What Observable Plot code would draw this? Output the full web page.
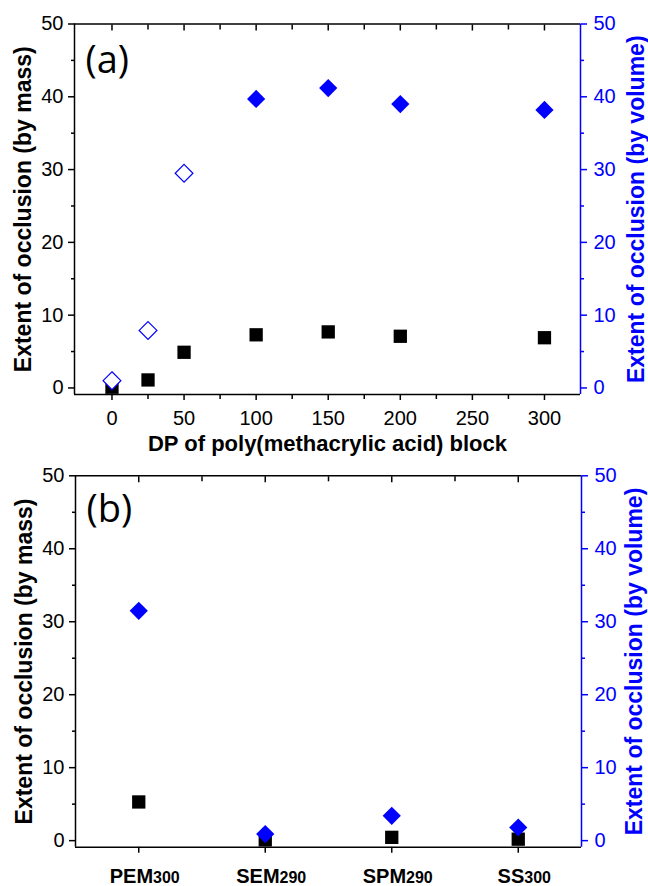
<!DOCTYPE html>
<html><head><meta charset="utf-8">
<script src="https://cdn.jsdelivr.net/npm/d3@7"></script>
<script src="https://cdn.jsdelivr.net/npm/@observablehq/plot@0.6"></script>
<style>
html,body{margin:0;padding:0;background:#fff;}
#chart svg{display:block;font-family:"Liberation Sans", Arial, Helvetica, sans-serif !important;}
#chart svg text{font-family:"Liberation Sans", Arial, Helvetica, sans-serif;}
#chart svg text.panel-label{font-family:"Open Sans", sans-serif;}
</style>
</head><body><div id="chart"></div>
<script>
// ---- Data: panel (a) ----
const dpValues = [0, 25, 50, 100, 150, 200, 300];
const massA = [0.1, 1.1, 4.9, 7.3, 7.7, 7.1, 6.9];
const volumeOpenDP = [0, 25, 50];
const volumeOpen = [1.0, 7.9, 29.5];
const volumeFilledDP = [100, 150, 200, 300];
const volumeFilled = [39.7, 41.2, 39.0, 38.2];

// ---- Data: panel (b) ----
const categories = ["PEM300", "SEM290", "SPM290", "SS300"];
const massB = [5.3, 0.1, 0.45, 0.2];
const volumeB = [31.5, 0.9, 3.4, 1.8];

// ---- Ticks / labels ----
const yTicks = [0, 10, 20, 30, 40, 50];
const yMinor = [5, 15, 25, 35, 45];
const xTicksA = [0, 50, 100, 150, 200, 250, 300];
const xMinorA = [25, 75, 125, 175, 225, 275];
const xTicksB = [1, 2, 3, 4];
const xMinorB = [1.5, 2.5, 3.5];
const xTitleA = "DP of poly(methacrylic acid) block";
const yTitleLeft = "Extent of occlusion (by mass)";
const yTitleRight = "Extent of occlusion (by volume)";
const panelLabels = ["(a)", "(b)"];

const yDomain = [-0.9, 50];
const xDomainA = [-26, 325];
const xDomainB = [0.5, 4.5];

const BLUE = "#0000ff";
const FONT = "Liberation Sans, Arial, sans-serif";

const tMassA = dpValues.map((x, i) => ({x, y: massA[i]}));
const tOpenA = volumeOpenDP.map((x, i) => ({x, y: volumeOpen[i]}));
const tFilledA = volumeFilledDP.map((x, i) => ({x, y: volumeFilled[i]}));
const tMassB = categories.map((c, i) => ({x: i + 1, y: massB[i]}));
const tVolB = categories.map((c, i) => ({x: i + 1, y: volumeB[i]}));

function commonY() {
  return [
    Plot.axisY({anchor: "left", ticks: yTicks, tickSize: 6, tickPadding: 5, fontSize: 20, strokeWidth: 1.5, label: null, color: "#000"}),
    Plot.axisY({anchor: "left", ticks: yMinor, tickSize: 3, tickFormat: () => "", strokeWidth: 1.5, label: null, color: "#000"}),
    Plot.axisY({anchor: "right", ticks: yTicks, tickSize: 6, tickPadding: 7, fontSize: 20, strokeWidth: 1.5, label: null, color: BLUE}),
    Plot.axisY({anchor: "right", ticks: yMinor, tickSize: 3, tickFormat: () => "", strokeWidth: 1.5, label: null, color: BLUE}),
    Plot.ruleY([yDomain[1]], {stroke: "#000", strokeWidth: 1.5}),
    Plot.ruleY([yDomain[0]], {stroke: "#000", strokeWidth: 1.5}),
    Plot.text([yTitleLeft], {frameAnchor: "left", text: d => d, rotate: -90, textAnchor: "middle", lineAnchor: "bottom", dx: -43.5, fontSize: 23, fontWeight: "bold", fill: "#000"}),
  ];
}

const plotA = Plot.plot({
  width: 648, height: 460,
  marginTop: 23.5, marginBottom: 66, marginLeft: 74, marginRight: 68,
  x: {domain: xDomainA},
  y: {domain: yDomain},
  style: {fontFamily: FONT, fontSize: "20px", color: "#000", background: "#fff", overflow: "visible"},
  marks: [
    ...commonY(),
    Plot.ruleX([xDomainA[0]], {stroke: "#000", strokeWidth: 1.5}),
    Plot.ruleX([xDomainA[1]], {stroke: BLUE, strokeWidth: 1.5}),
    Plot.axisX({anchor: "bottom", ticks: xTicksA, tickSize: 6, tickPadding: 10, fontSize: 20, strokeWidth: 1.5, label: null}),
    Plot.axisX({anchor: "bottom", ticks: xMinorA, tickSize: 5, tickFormat: () => "", strokeWidth: 1.5, label: null}),
    Plot.axisX({anchor: "top", ticks: xTicksA, tickSize: 6, dy: 6, tickFormat: () => "", strokeWidth: 1.5, label: null}),
    Plot.axisX({anchor: "top", ticks: xMinorA, tickSize: 5, dy: 5, tickFormat: () => "", strokeWidth: 1.5, label: null}),
    Plot.text([yTitleRight], {frameAnchor: "right", text: d => d, rotate: -90, textAnchor: "middle", lineAnchor: "bottom", dx: 63, fontSize: 23, fontWeight: "bold", fill: BLUE}),
    Plot.text([xTitleA], {frameAnchor: "bottom", text: d => d, lineAnchor: "bottom", dy: 56, fontSize: 22, fontWeight: "bold", fill: "#000"}),
    Plot.text([panelLabels[0]], {frameAnchor: "top-left", text: d => d, textAnchor: "start", lineAnchor: "bottom", dx: 11, dy: 49, fontSize: 38, className: "panel-label", fill: "#000"}),
    Plot.dot(tMassA, {x: "x", y: "y", symbol: "square", r: 7.5, fill: "#000"}),
    Plot.dot(tOpenA, {x: "x", y: "y", symbol: "diamond2", r: 8, fill: "#fff", stroke: BLUE, strokeWidth: 1.2}),
    Plot.dot(tFilledA, {x: "x", y: "y", symbol: "diamond2", r: 8.2, fill: BLUE})
  ]
});

const plotB = Plot.plot({
  width: 648, height: 426,
  marginTop: 15.3, marginBottom: 39.3, marginLeft: 75, marginRight: 67,
  x: {domain: xDomainB},
  y: {domain: yDomain},
  style: {fontFamily: FONT, fontSize: "20px", color: "#000", background: "#fff", overflow: "visible"},
  marks: [
    ...commonY(),
    Plot.ruleX([xDomainB[0]], {stroke: "#000", strokeWidth: 1.5}),
    Plot.ruleX([xDomainB[1]], {stroke: BLUE, strokeWidth: 1.5}),
    Plot.axisX({anchor: "bottom", ticks: xTicksB, tickSize: 6, tickPadding: 16, fontSize: 20, fontWeight: "bold", strokeWidth: 1.5, tickFormat: d => categories[d - 1], label: null}),
    Plot.axisX({anchor: "top", ticks: xTicksB, tickSize: 6, dy: 6, tickFormat: () => "", strokeWidth: 1.5, label: null}),
    Plot.axisX({anchor: "top", ticks: xMinorB, tickSize: 5, dy: 5, tickFormat: () => "", strokeWidth: 1.5, label: null}),
    Plot.text([yTitleRight], {frameAnchor: "right", text: d => d, rotate: -90, textAnchor: "middle", lineAnchor: "bottom", dx: 60, fontSize: 23, fontWeight: "bold", fill: BLUE}),
    Plot.text([panelLabels[1]], {frameAnchor: "top-left", text: d => d, textAnchor: "start", lineAnchor: "bottom", dx: 11, dy: 46.4, fontSize: 38, className: "panel-label", fill: "#000"}),
    Plot.dot(tMassB, {x: "x", y: "y", symbol: "square", r: 7.5, fill: "#000"}),
    Plot.dot(tVolB, {x: "x", y: "y", symbol: "diamond2", r: 8.2, fill: BLUE})
  ]
});

// Category labels: smaller trailing digits, shifted slightly right as in the reference
d3.select(plotB).selectAll('g[aria-label="x-axis tick label"] text').each(function () {
  const t = this.textContent;
  const m = t.match(/^([A-Za-z]+)(\d+)$/);
  if (m) {
    this.textContent = "";
    const s = d3.select(this);
    s.attr("dx", 6);
    s.append("tspan").text(m[1]);
    s.append("tspan").attr("font-size", "0.8em").text(m[2]);
  }
});
// panel labels use a different face
d3.selectAll([plotA, plotB]).selectAll('g[aria-label="text"] text').filter(function () {
  return panelLabels.includes(this.textContent);
}).style("font-family", "'Open Sans', sans-serif");

document.getElementById("chart").append(plotA, plotB);
</script>
</body></html>
